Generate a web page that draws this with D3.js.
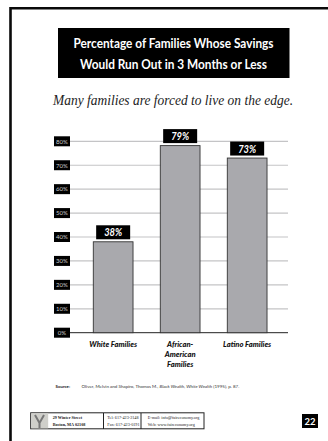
<!DOCTYPE html>
<html><head><meta charset="utf-8">
<script src="https://cdn.jsdelivr.net/npm/d3@7/dist/d3.min.js"></script>
<style>html,body{margin:0;padding:0;background:#fff;overflow:hidden}svg{display:block}</style>
</head><body><div id="chart"></div>
<script>
const categories = ["White Families", "African-American Families", "Latino Families"];
const categoryLines = [["White Families"], ["African-", "American", "Families"], ["Latino Families"]];
const barValues = [38, 78.2, 73];
const barLabels = ["38%", "79%", "73%"];
const tickValues = [0, 10, 20, 30, 40, 50, 60, 70, 80];
const titleLines = ["Percentage of Families Whose Savings", "Would Run Out in 3 Months or Less"];
const subtitle = "Many families are forced to live on the edge.";

const sans = "Lato, 'Open Sans', sans-serif", serif = "'Liberation Serif', serif";
const svg = d3.select("#chart").append("svg").attr("width", 328).attr("height", 441);
svg.append("rect").attr("width", 328).attr("height", 441).attr("fill", "#fff");

// page frame
svg.append("path").attr("d", "M10.5,441V8.2H328").attr("fill", "none").attr("stroke", "#0a0a0a").attr("stroke-width", 2.6);

// title
svg.append("rect").attr("x", 58).attr("y", 28).attr("width", 231.5).attr("height", 50).attr("fill", "#000");
svg.selectAll(".t").data(titleLines).join("text").attr("x", 173.5).attr("y", (d, i) => 48 + i * 20.5)
  .attr("text-anchor", "middle").attr("fill", "#fff").attr("font-family", sans).attr("font-weight", 700).attr("font-size", 12.8)
  .attr("textLength", (d, i) => i ? 187 : 200).attr("lengthAdjust", "spacingAndGlyphs").text(d => d);
svg.append("text").attr("x", 173).attr("y", 105).attr("text-anchor", "middle").attr("font-family", serif)
  .attr("font-style", "italic").attr("font-size", 15).attr("fill", "#222")
  .attr("textLength", 240).attr("lengthAdjust", "spacingAndGlyphs").text(subtitle);

// chart
const y = d3.scaleLinear().domain([0, 80]).range([332.7, 141.3]);
const x = d3.scaleBand().domain(categories).range([79.66, 280.66]).paddingInner(0.407).paddingOuter(0.2035);
const plot = svg.append("g");
plot.selectAll(".grid").data(tickValues).join("line").attr("x1", 70).attr("x2", 288)
  .attr("y1", d => y(d)).attr("y2", d => y(d)).attr("stroke", d => d === 0 ? "#222" : "#c4c4c6").attr("stroke-width", d => d === 0 ? 1 : 1.2);
plot.selectAll(".tb").data(tickValues).join("rect").attr("x", 54).attr("width", 16).attr("height", 10)
  .attr("y", d => y(d) - 5).attr("fill", "#000");
plot.selectAll(".tl").data(tickValues).join("text").attr("x", 62).attr("y", d => y(d) + 2.3).attr("text-anchor", "middle")
  .attr("fill", "#ccc").attr("font-family", sans).attr("font-size", 6).text(d => d + "%");

const xc = (d, i) => x(categories[i]);
plot.selectAll(".bar").data(barValues).join("rect").attr("x", xc).attr("width", x.bandwidth())
  .attr("y", d => y(d)).attr("height", d => y(0) - y(d)).attr("fill", "#a9a9ad").attr("stroke", "#333").attr("stroke-width", 0.9);
plot.selectAll(".vb").data(barValues).join("rect").attr("x", (d, i) => xc(d, i) + x.bandwidth() / 2 - 17).attr("width", 34)
  .attr("y", d => y(d) - 16.5).attr("height", 14).attr("fill", "#000");
plot.selectAll(".vl").data(barValues).join("text").attr("x", (d, i) => xc(d, i) + x.bandwidth() / 2).attr("y", d => y(d) - 5.5)
  .attr("text-anchor", "middle").attr("fill", "#fff").attr("font-family", sans).attr("font-weight", 700).attr("font-style", "italic")
  .attr("font-size", 11).attr("textLength", 18).attr("lengthAdjust", "spacingAndGlyphs").text((d, i) => barLabels[i]);
categoryLines.forEach((lines, i) => {
  plot.selectAll(".c" + i).data(lines).join("text").attr("x", x(categories[i]) + x.bandwidth() / 2).attr("y", (d, j) => 346.8 + j * 10)
    .attr("text-anchor", "middle").attr("fill", "#111").attr("font-family", sans).attr("font-weight", 900).attr("font-style", "italic")
    .attr("font-size", 7.6).text(d => d);
});

// source
svg.append("text").attr("x", 55.5).attr("y", 387.5).attr("font-family", sans).attr("font-weight", 700).attr("font-size", 4.4).attr("fill", "#222").text("Source:");
const src = svg.append("text").attr("x", 81.5).attr("y", 387.5).attr("font-family", sans).attr("font-size", 4.5).attr("fill", "#333");
src.append("tspan").text("Oliver, Melvin and Shapiro, Thomas M., ");
src.append("tspan").attr("font-style", "italic").text("Black Wealth, White Wealth");
src.append("tspan").text(" (1995), p. 87.");

// footer
const foot = svg.append("g");
foot.append("rect").attr("x", 30.7).attr("y", 412.8).attr("width", 173.3).attr("height", 16).attr("fill", "#fff").attr("stroke", "#222").attr("stroke-width", 1);
foot.append("rect").attr("x", 31.2).attr("y", 413.3).attr("width", 17).attr("height", 15).attr("fill", "#cfcfca");
foot.append("path").attr("d", "M35,415L39.5,423L44,415M39.5,423V428").attr("fill", "none").attr("stroke", "#777").attr("stroke-width", 2);
[103.5, 141].forEach(v => foot.append("line").attr("x1", v).attr("x2", v).attr("y1", 413).attr("y2", 429).attr("stroke", "#222"));
const footText = [[52.7, 419, "29 Winter Street", 1], [52.7, 425.5, "Boston, MA 02108", 1], [107.3, 419, "Tel: 617-423-2148", 0], [107.3, 425.5, "Fax: 617-423-0191", 0], [147.7, 419, "E-mail: info@faireconomy.org", 0], [147.7, 425.5, "Web: www.faireconomy.org", 0]];
foot.selectAll("text").data(footText).join("text").attr("x", d => d[0]).attr("y", d => d[1]).attr("font-family", serif)
  .attr("font-weight", d => d[3] ? 700 : 400).attr("font-size", 4.2).attr("fill", "#222").text(d => d[2]);
svg.append("rect").attr("x", 302).attr("y", 414).attr("width", 16).attr("height", 14).attr("fill", "#000");
svg.append("text").attr("x", 310).attr("y", 424.5).attr("text-anchor", "middle").attr("fill", "#fff").attr("font-family", sans).attr("font-weight", 700).attr("font-size", 9.5).text("22");
</script></body></html>
